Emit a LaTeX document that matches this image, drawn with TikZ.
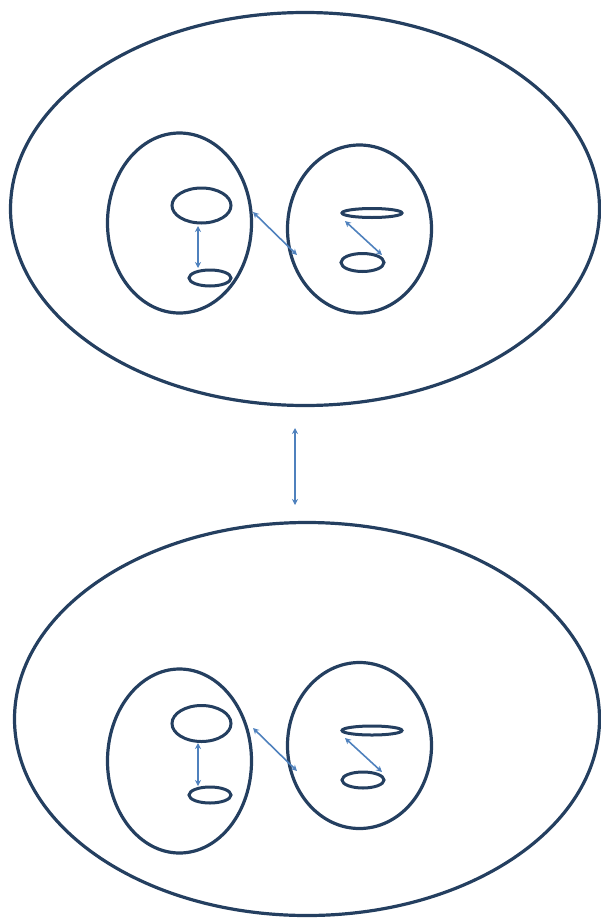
\documentclass[tikz,border=0pt]{standalone}
\usetikzlibrary{shapes.geometric,arrows.meta}
\definecolor{navy}{HTML}{243F60}
\definecolor{arrowblue}{HTML}{4F81BD}
\tikzset{
  ring/.style={ellipse,draw=navy,line width=3.2pt,inner sep=0pt,outer sep=0pt},
  thinring/.style={ellipse,draw=navy,line width=3pt,inner sep=0pt,outer sep=0pt},
  link/.style={draw=arrowblue,line width=1.6pt,{Stealth[length=6pt,width=6pt]}-{Stealth[length=6pt,width=6pt]}}
}
\begin{document}
\begin{tikzpicture}[x=1pt,y=-1pt]
\useasboundingbox (0,0) rectangle (601,918);
% top group
\node[ring,minimum width=589pt,minimum height=393pt] (to) at (305,209) {};
\node[ring,minimum width=144pt,minimum height=180pt] (tl) at (179.5,223) {};
\node[ring,minimum width=144pt,minimum height=168pt] (tr) at (359.5,229) {};
\node[thinring,minimum width=59pt,minimum height=35pt] (tla) at (201.5,205.5) {};
\node[thinring,minimum width=42pt,minimum height=16pt] (tlb) at (210,278) {};
\node[thinring,minimum width=60pt,minimum height=9pt] (tra) at (372,213) {};
\node[thinring,minimum width=43pt,minimum height=18pt] (trb) at (362.5,262.5) {};
\coordinate (t1s) at (198,226); \coordinate (t1e) at (198,268);
\coordinate (t2s) at (253,212); \coordinate (t2e) at (297,255);
\coordinate (t3s) at (345,221); \coordinate (t3e) at (382,255);
\draw[link] (t1s) -- (t1e);
\draw[link] (t2s) -- (t2e);
\draw[link] (t3s) -- (t3e);
% middle arrow
\coordinate (ms) at (295,428); \coordinate (me) at (295,505);
\draw[link] (ms) -- (me);
% bottom group
\node[ring,minimum width=585pt,minimum height=393pt] (bo) at (307,719) {};
\node[ring,minimum width=144pt,minimum height=184pt] (bl) at (179.5,761) {};
\node[ring,minimum width=144pt,minimum height=166pt] (br) at (359.5,745.5) {};
\node[thinring,minimum width=59pt,minimum height=36pt] (bla) at (201.5,723.5) {};
\node[thinring,minimum width=42pt,minimum height=16pt] (blb) at (210,795) {};
\node[thinring,minimum width=60pt,minimum height=9pt] (bra) at (372,730.5) {};
\node[thinring,minimum width=42pt,minimum height=16pt] (brb) at (363,780) {};
\coordinate (b1s) at (198,743); \coordinate (b1e) at (198,786);
\coordinate (b2s) at (253,728); \coordinate (b2e) at (297,771);
\coordinate (b3s) at (345,738); \coordinate (b3e) at (382,772);
\draw[link] (b1s) -- (b1e);
\draw[link] (b2s) -- (b2e);
\draw[link] (b3s) -- (b3e);
\end{tikzpicture}
\end{document}
